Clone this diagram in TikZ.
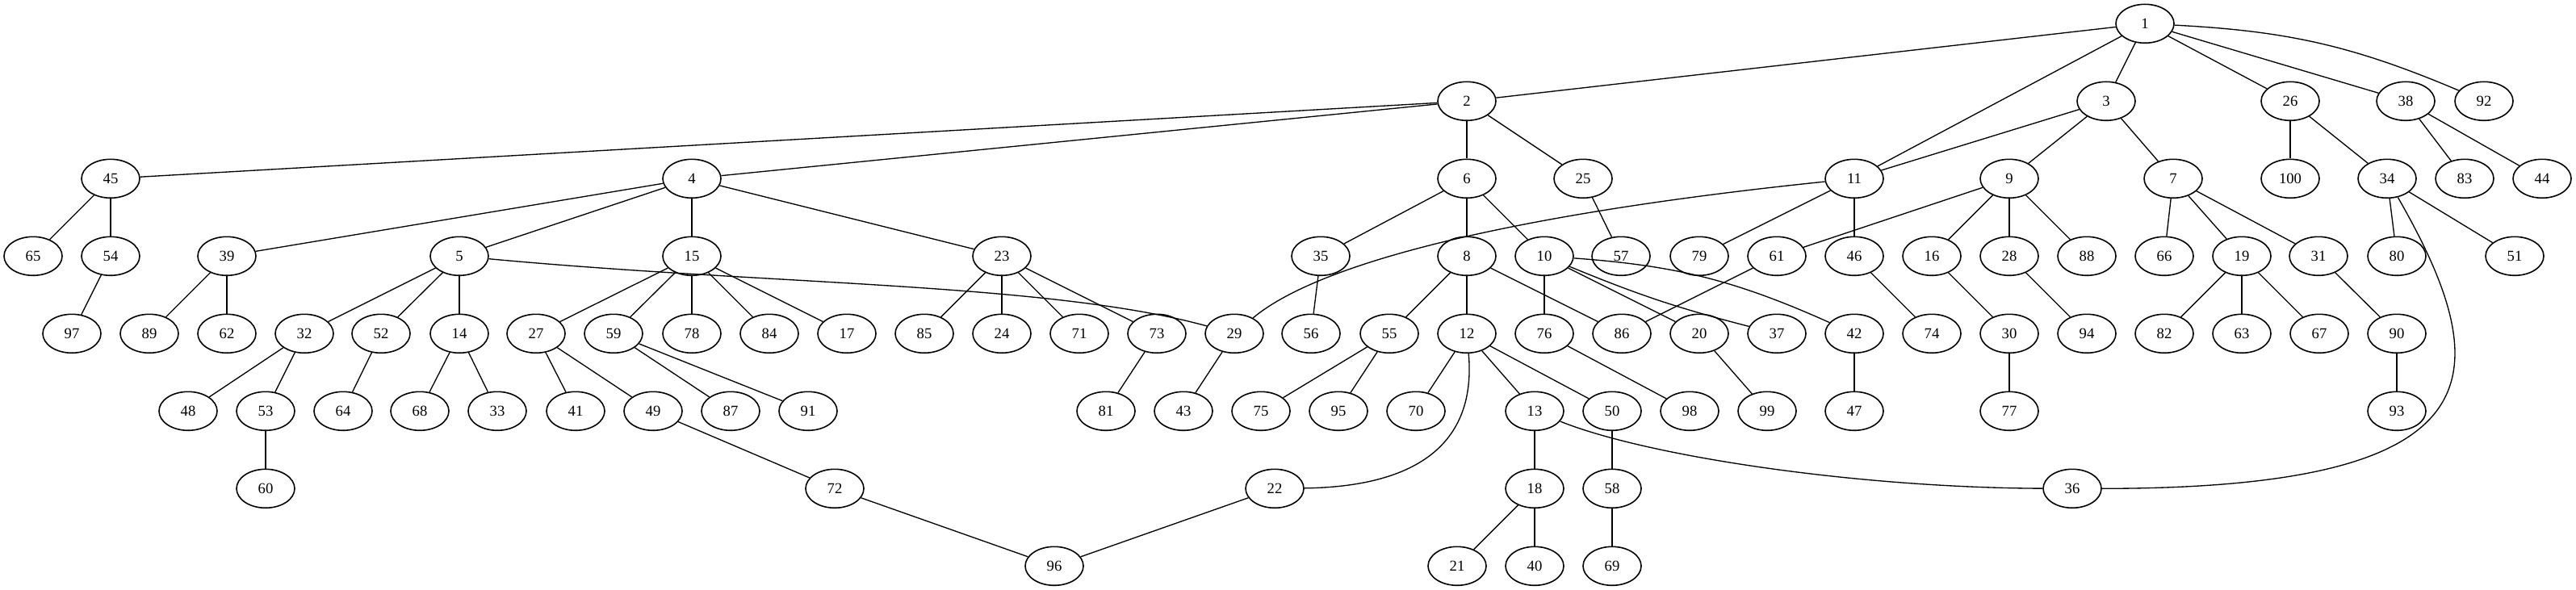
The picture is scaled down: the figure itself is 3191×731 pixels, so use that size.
\documentclass[tikz,border=0pt]{standalone}
\usepackage{fontspec}
\setmainfont{Liberation Serif}
\usetikzlibrary{shapes.geometric}

\tikzset{
  vertex/.style={ellipse, draw=black, line width=1.2pt, minimum width=54pt, minimum height=36pt, inner sep=0pt, font=\fontsize{14}{16}\selectfont},
  link/.style={line width=1pt}
}

\begin{document}
\begin{tikzpicture}[x=0.75pt, y=0.75pt]
\useasboundingbox (0,0) rectangle (3191,-731);
\foreach \n/\x in {1/2657}
  \node[vertex] (n\n) at (\x,-29.3) {\n};
\foreach \n/\x in {2/1817,3/2609,26/2837,38/2980,92/3077}
  \node[vertex] (n\n) at (\x,-125.3) {\n};
\foreach \n/\x in {45/137,4/857,6/1817,25/1961,11/2297,9/2489,7/2692,100/2837,34/2957,83/3053,44/3149}
  \node[vertex] (n\n) at (\x,-221.3) {\n};
\foreach \n/\x in {65/41,54/137,39/281,5/569,15/857,23/1241,35/1636,8/1817,10/1913,57/2008,79/2105,61/2201,46/2297,16/2393,28/2489,88/2585,66/2681,19/2777,31/2872,80/2969,51/3115}
  \node[vertex] (n\n) at (\x,-317.3) {\n};
\foreach \n/\x in {97/89,89/185,62/281,32/377,52/472,14/569,27/664,59/760,78/857,84/953,17/1049,85/1145,24/1241,71/1337,73/1433,29/1529,56/1624,55/1721,12/1817,76/1913,86/2009,20/2105,37/2201,42/2297,74/2393,30/2489,94/2585,82/2681,63/2777,67/2873,90/2969}
  \node[vertex] (n\n) at (\x,-413.3) {\n};
\foreach \n/\x in {48/233,53/329,64/425,68/520,33/616,41/713,49/809,87/905,91/1001,81/1370,43/1466,75/1562,95/1658,70/1754,13/1901,50/1997,98/2093,99/2189,47/2297,77/2489,93/2969}
  \node[vertex] (n\n) at (\x,-509.3) {\n};
\foreach \n/\x in {60/329,72/1034,22/1579,18/1901,58/1997,36/2567}
  \node[vertex] (n\n) at (\x,-605.3) {\n};
\foreach \n/\x in {96/1306,21/1805,40/1901,69/1997}
  \node[vertex] (n\n) at (\x,-701.3) {\n};

\foreach \a/\b in {1/2,1/11,1/3,1/26,1/38,2/45,2/4,2/6,2/25,3/11,3/9,3/7,4/39,4/5,4/15,4/23,
  5/32,5/52,5/14,6/35,6/8,6/10,7/66,7/19,7/31,8/55,8/12,8/86,9/61,9/16,9/28,9/88,10/76,10/20,
  11/79,11/46,12/70,12/13,12/50,13/18,14/68,14/33,15/27,15/59,15/78,15/84,15/17,16/30,18/21,18/40,
  19/82,19/63,19/67,20/99,22/96,23/85,23/24,23/71,23/73,25/57,26/100,26/34,27/41,27/49,28/94,29/43,
  30/77,31/90,32/48,32/53,34/80,34/51,35/56,38/83,38/44,39/89,39/62,42/47,45/65,45/54,46/74,49/72,
  50/58,52/64,53/60,54/97,55/75,55/95,58/69,59/87,59/91,61/86,72/96,73/81,76/98,90/93}
  \draw[link] (n\a) -- (n\b);

\draw[link] (n1) to[bend left=10] (n92);
\draw[link] (n10) to[bend right=4] (n37);
\draw[link] (n10) to[bend left=10] (n42);
\draw[link] (n5) .. controls +(386,-36) and +(-229,63) .. (n29);
\draw[link] (n11) .. controls +(-397,-41) and +(111,93) .. (n29);
\draw[link] (n12) .. controls +(13,-147) and +(161,2) .. (n22);
\draw[link] (n13) .. controls +(139,-56) and +(-267,1) .. (n36);
\draw[link] (n34) .. controls +(143,-249) and +(523,0) .. (n36);
\end{tikzpicture}
\end{document}
